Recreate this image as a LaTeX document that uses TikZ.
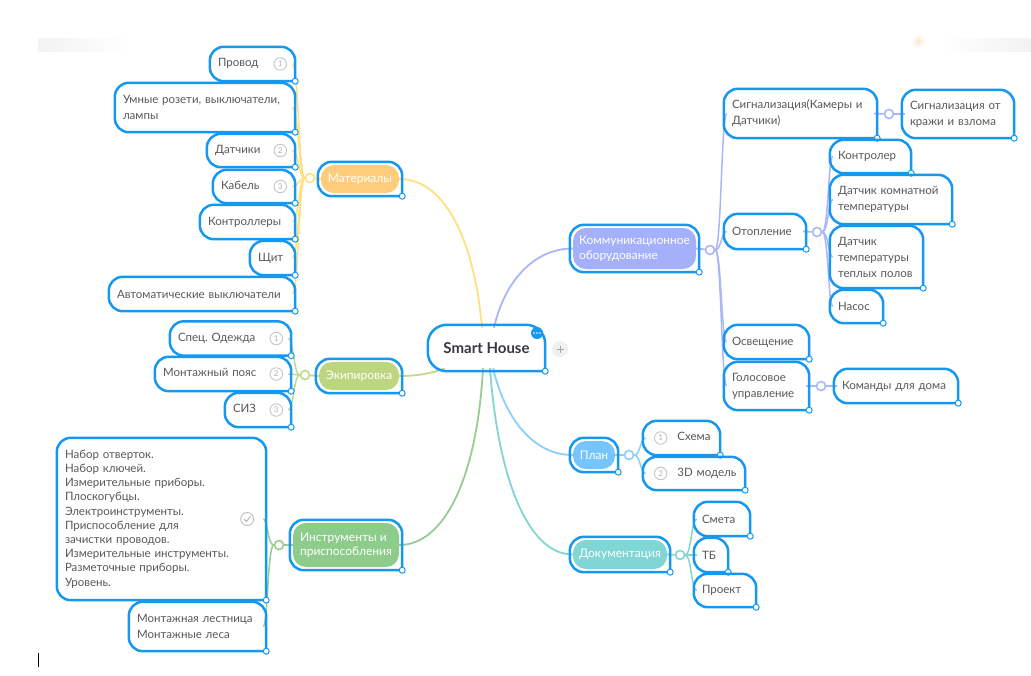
\documentclass[tikz,border=0pt]{standalone}
\usepackage{fontspec}
\setmainfont{Lato}
\usetikzlibrary{backgrounds}

\definecolor{selblue}{RGB}{22,152,240}
\definecolor{txtgray}{RGB}{88,88,88}
\definecolor{smarttxt}{RGB}{52,56,66}
\definecolor{matfill}{RGB}{254,204,122}
\definecolor{matline}{RGB}{255,224,128}
\definecolor{eqfill}{RGB}{188,214,128}
\definecolor{eqline}{RGB}{192,218,140}
\definecolor{toolfill}{RGB}{142,204,140}
\definecolor{toolline}{RGB}{150,206,146}
\definecolor{commfill}{RGB}{164,176,250}
\definecolor{commline}{RGB}{170,182,252}
\definecolor{planfill}{RGB}{118,196,252}
\definecolor{planline}{RGB}{140,206,252}
\definecolor{docfill}{RGB}{128,214,212}
\definecolor{docline}{RGB}{130,214,208}

\newcommand{\numbadge}[1]{\tikz[baseline=(nb.base)]\node[circle,draw=gray!45,line width=0.9pt,inner sep=0pt,minimum size=12.5pt,text=gray!60,font=\fontsize{8}{8}\selectfont] (nb) {#1};}
\newcommand{\rbadge}[1]{\hskip 0pt plus 1filll\numbadge{#1}\hspace{3pt}}
\frenchspacing

\begin{document}
\begin{tikzpicture}
[x=1pt,y=-1pt,
 topic/.style={rectangle,rounded corners=11pt,fill=white,inner xsep=5pt,inner ysep=2pt,
   align=left,text=txtgray,font=\fontsize{11.5}{16}\selectfont},
 maintopic/.style={topic,fill=#1,text=white,rounded corners=13pt,font=\fontsize{12}{14.5}\selectfont},
 outlineDecorate/.style={draw=selblue,line width=2.5pt,rounded corners=14pt},
 handleDecorate/.style={draw=selblue,fill=white,line width=1pt},
 junc/.style={circle,draw=#1,fill=white,line width=1.6pt,minimum size=9pt,inner sep=0pt},
 branchline/.style={draw=#1,line width=1.8pt},
 leftlink/.style={draw=#1,line width=1.5pt,
   to path={.. controls ([xshift=-6pt]\tikztostart) and ([xshift=-6pt]\tikztostart |- \tikztotarget) .. (\tikztotarget)}},
 rightlink/.style={draw=#1,line width=1.5pt,
   to path={.. controls ([xshift=6pt]\tikztostart) and ([xshift=6pt]\tikztostart |- \tikztotarget) .. (\tikztotarget)}}]
\useasboundingbox (0,0) rectangle (1031,675);

%% central topic
\node (smart) at (486.5,348) [topic,rounded corners=16pt,minimum width=111pt,minimum height=40pt,
  font=\bfseries\fontsize{15}{18}\selectfont,text=smarttxt] {Smart House};

%% main topics
\node (mat) at (360,179) [maintopic=matfill,minimum width=78pt,minimum height=28pt] {Материалы};
\node (eq) at (359,376) [maintopic=eqfill,minimum width=80pt,minimum height=28pt] {Экипировка};
\node (tools) at (346,545) [maintopic=toolfill,minimum width=106pt,minimum height=44pt] {Инструменты и\\приспособления};
\node (comm) at (634.5,248.5) [maintopic=commfill,minimum width=123pt,minimum height=41pt] {Коммуникационное\\оборудование};
\node (plan) at (594,455) [maintopic=planfill,minimum width=42pt,minimum height=28pt] {План};
\node (doc) at (620,554.5) [maintopic=docfill,minimum width=94pt,minimum height=29pt] {Документация};

%% subtopics
\foreach \nodename/\x/\y/\tw/\hh/\txt in {
  m1/252.5/64/69/28/{Провод\rbadge{1}},
  m2/205/107.5/164/43/{Умные розети, выключатели,\\лампы},
  m3/251/150.5/72/27/{Датчики\rbadge{2}},
  m4/254/186.5/66/27/{Кабель\rbadge{3}},
  m5/247.5/222/79/28/{Контроллеры},
  m6/272.5/258/29/28/{Щит},
  m7/202/294/170/28/{Автоматические выключатели},
  e1/230.5/338.5/105/28/{Спец. Одежда\rbadge{1}},
  e2/223/374/120/28/{Монтажный пояс\rbadge{2}},
  e3/258/410/50/28/{СИЗ\rbadge{3}},
  t2/197.5/626.5/121/43/{Монтажная лестница\\Монтажные леса},
  c1/800.5/113.5/137/43/{Сигнализация(Камеры и\\Датчики)},
  c1a/958/114/96/42/{Сигнализация от\\кражи и взлома},
  c2/765/231.5/66/29/{Отопление},
  c2a/870.5/156.5/65/27/{Контролер},
  c2b/891/199.5/106/43/{Датчик комнатной\\температуры},
  c2c/876.5/257/77/56/{Датчик\\температуры\\теплых полов},
  c2d/856.5/306.5/37/27/{Насос},
  c3/766.5/342/69/28/{Освещение},
  c4/766.5/386/69/42/{Голосовое\\управление},
  c4a/896/386/108/28/{Команды для дома},
  p1/681.5/438/61/28/{\hspace{3pt}\numbadge{1}\hspace{10pt}Схема},
  p2/694/473.5/86/27/{\hspace{3pt}\numbadge{2}\hspace{10pt}3D~модель},
  d1/722/519/40/28/{Смета},
  d2/711/555/18/28/{ТБ},
  d3/725/590.5/46/27/{Проект}} {
  \node (\nodename) at (\x,\y) [topic,text width=\tw pt,minimum height=\hh pt] {\txt};
}
\node (t1) at (161.5,519) [topic,text width=193pt,minimum height=156pt,font=\fontsize{11.5}{14.2}\selectfont]
  {Набор отверток.\\Набор ключей.\\Измерительные приборы.\\Плоскогубцы.\\Электроинструменты.\\Приспособление для\\зачистки проводов.\\Измерительные инструменты.\\Разметочные приборы.\\Уровень.};
\node (chk) at ([xshift=-16pt]t1.east) [circle,draw=gray!50,line width=0.9pt,minimum size=13pt,inner sep=0pt] {};
\draw[gray!60,line width=0.9pt] ([shift={(-3,0)}]chk.center) -- ([shift={(-0.8,2.5)}]chk.center) -- ([shift={(3.3,-2.5)}]chk.center);

%% junctions
\foreach \nodename/\x/\y/\col in {jm/310/178/matline, je/305/375/eqline, jt/279/545/toolline,
  jc/710/250/commline, jc1/889/114/commline, jc2/817/232/commline, jc4/821/386/commline,
  jp/629/455/planline, jd/680/555/docline} {
  \node (\nodename) at (\x,\y) [junc=\col] {};
}

%% outlines of the selected topics
\foreach \nodename in {mat,eq,tools,comm,plan,doc,m1,m2,m3,m4,m5,m6,m7,e1,e2,e3,t1,t2,
  c1,c1a,c2,c2a,c2b,c2c,c2d,c3,c4,c4a,p1,p2,d1,d2,d3} {
  \draw[outlineDecorate] ([shift={(3,3)}]\nodename.south east) -- ([shift={(3,-3)}]\nodename.north east)
    -- ([shift={(-3,-3)}]\nodename.north west) -- ([shift={(-3,3)}]\nodename.south west)
    -- ([shift={(3,3)}]\nodename.south east);
  \draw[handleDecorate] ([shift={(3,3)}]\nodename.south east) circle (3);
}
\draw[outlineDecorate,rounded corners=19pt] ([shift={(3,3)}]smart.south east) -- ([shift={(3,-3)}]smart.north east)
  -- ([shift={(-3,-3)}]smart.north west) -- ([shift={(-3,3)}]smart.south west)
  -- ([shift={(3,3)}]smart.south east);
\draw[handleDecorate] ([shift={(3,3)}]smart.south east) circle (3);

%% more and plus buttons
\node (more) at (537,333) [circle,fill=selblue,minimum size=12pt,inner sep=0pt] {};
\foreach \dx in {-3,0,3} {
  \fill[white] ([xshift=\dx pt]more.center) circle (0.9);
}
\node (plus) at (560,349) [circle,fill=gray!12,minimum size=16pt,inner sep=0pt] {};
\draw[gray!70,line width=0.8pt] ([xshift=-3.5pt]plus.center) -- ([xshift=3.5pt]plus.center)
  ([yshift=-3.5pt]plus.center) -- ([yshift=3.5pt]plus.center);

\begin{scope}[on background layer]
\fill[white] (0,0) rectangle (1031,675);
\shade[left color=gray!10,right color=white] (38,38) rectangle (130,51);
\shade[left color=white,right color=gray!10] (940,38) rectangle (1031,51);
\shade[inner color=orange!20,outer color=white] (918,41) circle (7);
\draw[black,line width=1pt] (38,653) -- (38,667);

%% branches from the central topic
\path[branchline=matline] ([xshift=-4.5]smart.north) .. controls +(-8,-90) and +(45,0) .. (mat.east);
\path[branchline=commline] ([xshift=7.5]smart.north) .. controls +(10,-45) and +(-40,0) .. (comm.west);
\path[branchline=eqline] ([xshift=-41.5]smart.south) .. controls +(-15,6) and +(15,0) .. (eq.east);
\path[branchline=toolline] ([xshift=-3.5]smart.south) .. controls +(-6,110) and +(45,0) .. (tools.east);
\path[branchline=docline] ([xshift=3.5]smart.south) .. controls +(8,110) and +(-45,0) .. (doc.west);
\path[branchline=planline] ([xshift=6.5]smart.south) .. controls +(12,50) and +(-40,0) .. (plan.west);

%% topic to junction
\foreach \startnode/\endnode/\col in {mat.west/jm/matline, eq.west/je/eqline, tools.west/jt/toolline,
  comm.east/jc/commline, c1.east/jc1/commline, c2.east/jc2/commline, c4.east/jc4/commline,
  plan.east/jp/planline, doc.east/jd/docline} {
  \path[branchline=\col] (\startnode) -- (\endnode);
}

%% junction to subtopics
\path
\foreach \startnode/\endnode/\col in {jm/m1/matline, jm/m2/matline, jm/m3/matline, jm/m4/matline,
  jm/m5/matline, jm/m6/matline, jm/m7/matline, je/e1/eqline, je/e2/eqline, je/e3/eqline,
  jt/t1/toolline, jt/t2/toolline} {
  (\startnode.west) edge[leftlink=\col] (\endnode.east)
};
\path
\foreach \startnode/\endnode/\col in {jc/c1/commline, jc/c2/commline, jc/c3/commline, jc/c4/commline,
  jc1/c1a/commline, jc2/c2a/commline, jc2/c2b/commline, jc2/c2c/commline, jc2/c2d/commline,
  jc4/c4a/commline, jp/p1/planline, jp/p2/planline, jd/d1/docline, jd/d2/docline, jd/d3/docline} {
  (\startnode.east) edge[rightlink=\col] (\endnode.west)
};
\end{scope}
\end{tikzpicture}
\end{document}
